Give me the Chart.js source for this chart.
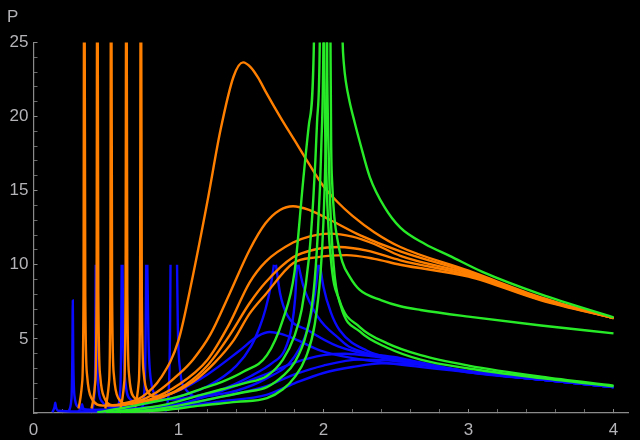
<!DOCTYPE html>
<html>
<head>
<meta charset="utf-8">
<script src="https://cdn.jsdelivr.net/npm/chart.js@4.4.1/dist/chart.umd.min.js"></script>
<style>
  html, body { margin: 0; padding: 0; background: #000; }
  #wrap { width: 640px; height: 440px; }
</style>
</head>
<body>
<div id="wrap"><canvas id="myChart" width="640" height="440"></canvas></div>
<script>
// axis ranges and tick labels
const xTicksMajor = [0, 1, 2, 3, 4];
const yTicksMajor = [5, 10, 15, 20, 25];

// orange family: narrow spike, then a broad hump, tails meet near x = 4
const orange1 = [[0.31,0.3],[0.335,2],[0.345,8],[0.349,30],[0.352,30],[0.357,8],[0.37,2.5],[0.40,1.0],[0.48,0.5],[0.6,0.6],[0.75,1.1],[0.88,2.4],[1.0,4.9],[1.1,9.3],[1.2,14.3],[1.29,19.1],[1.38,22.7],[1.445,23.65],[1.5,23.3],[1.55,22.6],[1.6,21.7],[1.7,20.0],[1.8,18.4],[1.9,16.8],[2.0,15.3],[2.1,14.2],[2.2,13.3],[2.35,12.2],[2.53,11.2],[3.0,9.6],[3.5,7.8],[4.0,6.4]];
const orange2 = [[0.40,0.3],[0.425,2],[0.435,8],[0.439,30],[0.442,30],[0.447,8],[0.46,2.5],[0.49,1.0],[0.56,0.5],[0.7,0.7],[0.85,1.4],[1.0,2.6],[1.1,3.6],[1.22,5.3],[1.35,8.0],[1.49,11.0],[1.6,12.8],[1.7,13.7],[1.79,13.95],[1.9,13.7],[2.05,13.0],[2.25,12.0],[2.53,10.9],[3.0,9.5],[3.5,7.75],[4.0,6.4]];
const orange3 = [[0.495,0.3],[0.52,2],[0.53,8],[0.534,30],[0.537,30],[0.542,8],[0.555,2.5],[0.585,1.0],[0.65,0.6],[0.8,0.9],[1.0,1.9],[1.2,3.6],[1.35,6.0],[1.49,8.8],[1.6,10.2],[1.79,11.5],[1.9,11.9],[2.04,12.1],[2.2,11.9],[2.35,11.4],[2.53,10.6],[3.0,9.4],[3.5,7.7],[4.0,6.4]];
const orange4 = [[0.6,0.3],[0.625,2],[0.635,8],[0.639,30],[0.642,30],[0.647,8],[0.66,2.5],[0.69,1.1],[0.76,0.8],[0.9,1.1],[1.05,1.9],[1.2,3.2],[1.35,5.2],[1.49,7.4],[1.6,8.8],[1.79,10.5],[1.95,11.05],[2.11,11.2],[2.3,10.95],[2.53,10.3],[3.0,9.3],[3.5,7.65],[4.0,6.4]];
const orange5 = [[0.70,0.4],[0.725,2],[0.735,8],[0.739,30],[0.742,30],[0.747,8],[0.76,2.7],[0.79,1.4],[0.85,1.1],[0.95,1.3],[1.1,2.1],[1.25,3.4],[1.38,4.9],[1.49,6.7],[1.6,8.0],[1.79,10.1],[1.95,10.5],[2.16,10.65],[2.35,10.4],[2.53,10.0],[3.0,9.2],[3.5,7.6],[4.0,6.4]];

// green family: rising branch up to a pole near x = 2, then a falling branch
const green1 = [[0.44,0.05],[0.6,0.3],[0.8,0.7],[1.0,1.1],[1.15,1.6],[1.3,2.1],[1.45,2.8],[1.61,3.9],[1.72,6.3],[1.8,9.5],[1.86,15.7],[1.9,19.5],[1.935,25.5],[1.945,40],[2.115,40],[2.128,27],[2.132,25],[2.14,23.6],[2.155,22.3],[2.18,21.0],[2.215,19.6],[2.25,18.3],[2.32,15.9],[2.42,13.9],[2.53,12.5],[2.7,11.4],[2.87,10.6],[3.1,9.5],[3.5,8.0],[4.0,6.45]];
const green2 = [[0.5,0.05],[0.7,0.25],[0.9,0.55],[1.15,1.2],[1.3,1.6],[1.45,2.0],[1.61,2.5],[1.72,3.6],[1.8,5.2],[1.85,7.0],[1.9,10.5],[1.93,14.5],[1.955,19.5],[1.975,25.5],[1.985,40],[1.995,40],[2.003,25.5],[2.02,16],[2.05,10.5],[2.11,7.6],[2.25,5.8],[2.44,4.7],[2.67,3.9],[3.0,3.2],[3.5,2.45],[4.0,1.85]];
const green3 = [[0.55,0.05],[0.8,0.2],[1.0,0.5],[1.15,0.8],[1.3,1.1],[1.45,1.4],[1.61,1.75],[1.72,2.5],[1.8,3.4],[1.88,5.3],[1.93,8],[1.96,12],[1.985,18],[2.0,25.5],[2.008,40],[2.015,40],[2.023,25.5],[2.04,16],[2.07,10],[2.12,7.2],[2.25,5.5],[2.44,4.4],[2.67,3.6],[3.0,3.0],[3.5,2.35],[4.0,1.8]];
const green4 = [[0.6,0.05],[0.9,0.2],[1.15,0.5],[1.4,0.75],[1.61,1.0],[1.72,1.6],[1.8,2.4],[1.88,3.8],[1.94,6.0],[1.98,9.5],[2.0,13],[2.015,18],[2.025,25.5],[2.03,40],[2.04,40],[2.048,25.5],[2.053,18],[2.06,15.5],[2.075,13.2],[2.1,11.5],[2.13,10.2],[2.18,9.2],[2.25,8.3],[2.4,7.6],[2.53,7.2],[2.67,6.95],[3.0,6.5],[3.5,5.9],[4.0,5.37]];

// blue family: spikes cut off at 10, then low arcs and sharp peaks near x = 1.7 - 2
const blue1 = [[0.13,0.05],[0.145,0.4],[0.15,0.7],[0.155,0.4],[0.17,0.15],[0.3,0.1],[0.6,0.15],[0.8,0.25],[1.0,0.4],[1.3,0.8],[1.6,1.2],[1.8,2.0],[2.0,2.7],[2.2,3.1],[2.4,3.35],[2.6,3.3],[3.0,2.8],[3.5,2.25],[4.0,1.75]];
const blue2 = [[0.24,0.1],[0.262,1],[0.268,4],[0.271,7.6],[0.274,4],[0.282,1.2],[0.31,0.4],[0.4,0.2],[0.6,0.25],[0.8,0.35],[1.0,0.5],[1.3,1.1],[1.6,1.8],[1.8,2.6],[2.0,3.2],[2.25,3.6],[2.5,3.5],[3.0,2.8],[3.5,2.25],[4.0,1.75]];
const blue3 = [[0.31,0.1],[0.33,0.4],[0.335,0.6],[0.34,0.4],[0.36,0.2],[0.5,0.2],[0.75,0.35],[1.0,0.6],[1.3,1.5],[1.6,2.6],[1.8,3.4],[2.0,3.9],[2.15,4.0],[2.35,3.8],[2.6,3.4],[3.0,2.8],[3.5,2.25],[4.0,1.75]];
const blue4 = [[0.40,0.1],[0.422,1.5],[0.427,5],[0.429,10],[0.430,null],[0.433,10],[0.437,5],[0.445,2],[0.47,0.8],[0.55,0.4],[0.7,0.5],[0.8,0.8],[1.0,1.5],[1.2,2.6],[1.42,4.2],[1.55,5.2],[1.63,5.46],[1.7,5.35],[1.8,5.0],[1.98,4.2],[2.2,3.7],[2.5,3.3],[3.0,2.75],[3.5,2.25],[4.0,1.75]];
const blue5 = [[0.57,0.1],[0.598,1.5],[0.605,5],[0.608,10],[0.611,null],[0.614,10],[0.62,5],[0.635,2],[0.67,0.9],[0.75,0.6],[0.85,0.8],[1.0,1.1],[1.2,1.8],[1.4,3.2],[1.5,4.5],[1.56,5.8],[1.6,7.0],[1.635,8.5],[1.658,10],[1.665,null],[1.672,10],[1.70,8.1],[1.75,6.6],[1.89,5.6],[2.1,4.5],[2.5,3.6],[3.0,2.8],[3.5,2.25],[4.0,1.75]];
const blue6 = [[0.74,0.1],[0.765,1.5],[0.773,5],[0.777,10],[0.781,null],[0.785,10],[0.793,5],[0.81,2.2],[0.85,1.2],[0.95,0.9],[1.1,1.1],[1.3,1.6],[1.5,2.5],[1.65,3.4],[1.73,4.2],[1.78,5.8],[1.805,7.8],[1.817,10],[1.822,null],[1.827,10],[1.86,8.6],[1.96,6.5],[2.11,5.0],[2.18,4.45],[2.53,3.7],[3.0,2.8],[3.5,2.25],[4.0,1.75]];
const blue7 = [[0.91,0.1],[0.935,2],[0.942,6],[0.945,10],[0.967,null],[0.99,10],[0.995,6],[1.01,3],[1.05,1.6],[1.15,1.1],[1.3,1.3],[1.4,1.5],[1.6,2.3],[1.8,3.8],[1.9,6],[1.94,8],[1.965,10],[1.97,null],[1.975,10],[2.0,8.5],[2.05,6.8],[2.11,5.6],[2.3,4.2],[2.53,3.6],[3.0,2.75],[3.5,2.25],[4.0,1.75]];

const greens = [green1, green2, green3, green4];
const oranges = [orange1, orange2, orange3, orange4, orange5];
const blues = [blue1, blue2, blue3, blue4, blue5, blue6, blue7];

function lineSet(data, color) {
  return {
    data: data,
    borderColor: color,
    borderWidth: 2.4,
    pointRadius: 0,
    fill: false,
    cubicInterpolationMode: 'monotone'
  };
}

// first dataset is painted last, so green sits on top of orange and blue
const datasets = []
  .concat(greens.map(d => lineSet(d, 'rgb(40,235,40)')))
  .concat(oranges.map(d => lineSet(d, 'rgb(255,128,0)')))
  .concat(blues.map(d => lineSet(d, 'rgb(10,10,255)')));

const axisGrey = '#8a8a8a';
const labelGrey = '#b4b4b8';
const near = (v, list) => list.some(t => Math.abs(v - t) < 1e-6);

const ctx = document.getElementById('myChart');

new Chart(ctx, {
  type: 'line',
  data: { datasets: datasets },
  options: {
    responsive: false,
    animation: false,
    devicePixelRatio: 1,
    layout: { padding: { left: 7, right: 12, top: 2, bottom: 0 } },
    plugins: {
      legend: { display: false },
      tooltip: { enabled: false },
      title: {
        display: true,
        text: 'P',
        align: 'start',
        color: labelGrey,
        font: { family: 'Liberation Sans', size: 17, weight: 'normal' },
        padding: { top: 5, bottom: 15 }
      }
    },
    scales: {
      x: {
        type: 'linear',
        min: 0,
        max: 4.1,
        afterFit: s => { s.height = 27; },
        border: { color: axisGrey, width: 1.2 },
        grid: {
          drawOnChartArea: false,
          tickLength: -4,
          tickColor: c => near(c.tick.value, xTicksMajor) ? axisGrey : '#6a6a6a'
        },
        ticks: {
          stepSize: 0.2,
          includeBounds: false,
          autoSkip: false,
          maxRotation: 0,
          padding: 11,
          color: labelGrey,
          font: { family: 'Liberation Sans', size: 17 },
          callback: v => near(v, xTicksMajor) ? String(Math.round(v)) : ''
        }
      },
      y: {
        type: 'linear',
        min: 0,
        max: 25,
        afterFit: s => { s.width = 26.5; },
        border: { color: axisGrey, width: 1.2 },
        grid: {
          drawOnChartArea: false,
          tickLength: -4,
          tickColor: c => near(c.tick.value, yTicksMajor) ? axisGrey : '#6a6a6a'
        },
        ticks: {
          stepSize: 1,
          autoSkip: false,
          padding: 9,
          color: labelGrey,
          font: { family: 'Liberation Sans', size: 17 },
          callback: v => near(v, yTicksMajor) ? String(Math.round(v)) : ''
        }
      }
    }
  }
});
</script>
</body>
</html>
